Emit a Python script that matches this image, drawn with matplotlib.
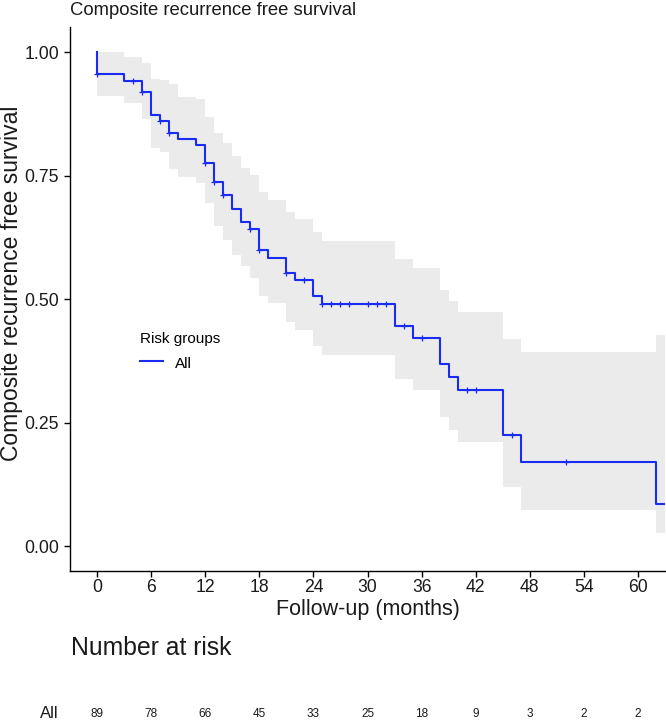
import numpy as np
import matplotlib
matplotlib.use("Agg")
import matplotlib.pyplot as plt
from matplotlib.lines import Line2D
from matplotlib.transforms import blended_transform_factory

plt.rcParams['font.family'] = ['Liberation Sans', 'DejaVu Sans']

# ---- data ----
event_times = [0, 3, 5, 6, 7, 8, 9, 11, 12, 13, 14, 15, 16, 17, 18, 19, 21, 22,
               24, 25, 33, 35, 38, 39, 40, 45, 47, 62]
surv = [0.955, 0.942, 0.920, 0.872, 0.861, 0.836, 0.825, 0.812, 0.775, 0.737,
        0.710, 0.683, 0.656, 0.641, 0.599, 0.583, 0.553, 0.538, 0.506, 0.489,
        0.445, 0.421, 0.369, 0.342, 0.315, 0.225, 0.170, 0.086]
upper = [1.0, 0.991, 0.977, 0.945, 0.943, 0.936, 0.910, 0.905, 0.868, 0.837,
         0.815, 0.790, 0.766, 0.752, 0.716, 0.700, 0.676, 0.663, 0.635, 0.617,
         0.582, 0.562, 0.519, 0.497, 0.474, 0.419, 0.393, 0.428]
lower = [0.911, 0.896, 0.864, 0.805, 0.797, 0.763, 0.747, 0.735, 0.694, 0.648,
         0.620, 0.590, 0.567, 0.543, 0.506, 0.492, 0.453, 0.438, 0.404, 0.386,
         0.339, 0.316, 0.261, 0.235, 0.210, 0.120, 0.073, 0.027]
censor_times = [0, 4, 5, 7, 8, 12, 13, 14, 17, 18, 21, 23, 25, 26, 27, 28, 30,
                31, 32, 34, 36, 41, 42, 46, 52]
end_time = 63

risk_times = [0, 6, 12, 18, 24, 30, 36, 42, 48, 54, 60]
risk_counts = [89, 78, 66, 45, 33, 25, 18, 9, 3, 2, 2]
group_name = "All"

line_color = "#1a2cf0"
band_color = "#ebebeb"
text_color = "#1a1a1a"

# ---- figure ----
W, H = 666, 720
fig = plt.figure(figsize=(W / 100, H / 100), dpi=100)
ax = fig.add_axes([70 / W, 1 - 570.7 / H, (665 - 70) / W, (570.7 - 27.4) / H])

xs = np.array([0] + event_times + [end_time], dtype=float)
ys = np.array([1.0] + surv + [surv[-1]])
up = np.array([1.0] + upper + [upper[-1]])
lo = np.array([1.0] + lower + [lower[-1]])

ax.fill_between(xs, lo, up, step='post', color=band_color, linewidth=0, zorder=1)
ax.step(xs, ys, where='post', color=line_color, lw=1.5, zorder=3)

# censor marks at the curve level
et = np.array(event_times)
sv = np.array(surv)
c_y = [sv[np.searchsorted(et, c, side='right') - 1] for c in censor_times]
ax.plot(censor_times, c_y, linestyle='none', marker='+', ms=5, mew=0.9,
        color=line_color, zorder=4)

ax.set_xlim(-3, 63)
ax.set_ylim(-0.05, 1.05)
ax.set_xticks(risk_times)
ax.set_yticks([0, 0.25, 0.5, 0.75, 1.0])
ax.set_yticklabels(["0.00", "0.25", "0.50", "0.75", "1.00"])
for s in ['top', 'right']:
    ax.spines[s].set_visible(False)
for s in ['left', 'bottom']:
    ax.spines[s].set_linewidth(1.0)
    ax.spines[s].set_color('black')
ax.tick_params(axis='both', length=4, width=1.0, color='black',
               labelsize=12.7, labelcolor=text_color)
ax.tick_params(axis='x', pad=2)
ax.tick_params(axis='y', pad=4)

fig.text(70 / W, 1 - 15 / H, "Composite recurrence free survival",
         fontsize=13.3, color=text_color, ha='left', va='baseline')
fig.text(12 / W, 1 - 283 / H, "Composite recurrence free survival",
         fontsize=16.5, color=text_color, rotation=90, ha='center', va='center')
fig.text(368 / W, 1 - 610 / H, "Follow-up (months)", fontsize=15.5,
         color=text_color, ha='center', va='center')

# legend
handle = Line2D([], [], color=line_color, lw=1.5)
leg = ax.legend([handle], [group_name], title="Risk groups", frameon=False,
                loc='upper left', bbox_to_anchor=(126 / W, 1 - 318 / H),
                bbox_transform=fig.transFigure, fontsize=11,
                title_fontsize=11, handlelength=1.5, handletextpad=0.8,
                handleheight=1.5, alignment='left')

# risk table
fig.text(71 / W, 1 - 648 / H, "Number at risk", fontsize=17.8,
         color=text_color, ha='left', va='center')
tr = blended_transform_factory(ax.transData, fig.transFigure)
for t, n in zip(risk_times, risk_counts):
    fig.text(t, 1 - 714 / H, str(n), transform=tr, fontsize=8.5,
             color=text_color, ha='center', va='center')
fig.text(59 / W, 1 - 714 / H, group_name, fontsize=12, color=text_color,
         ha='right', va='center')

fig.savefig("out.png", dpi=100)
